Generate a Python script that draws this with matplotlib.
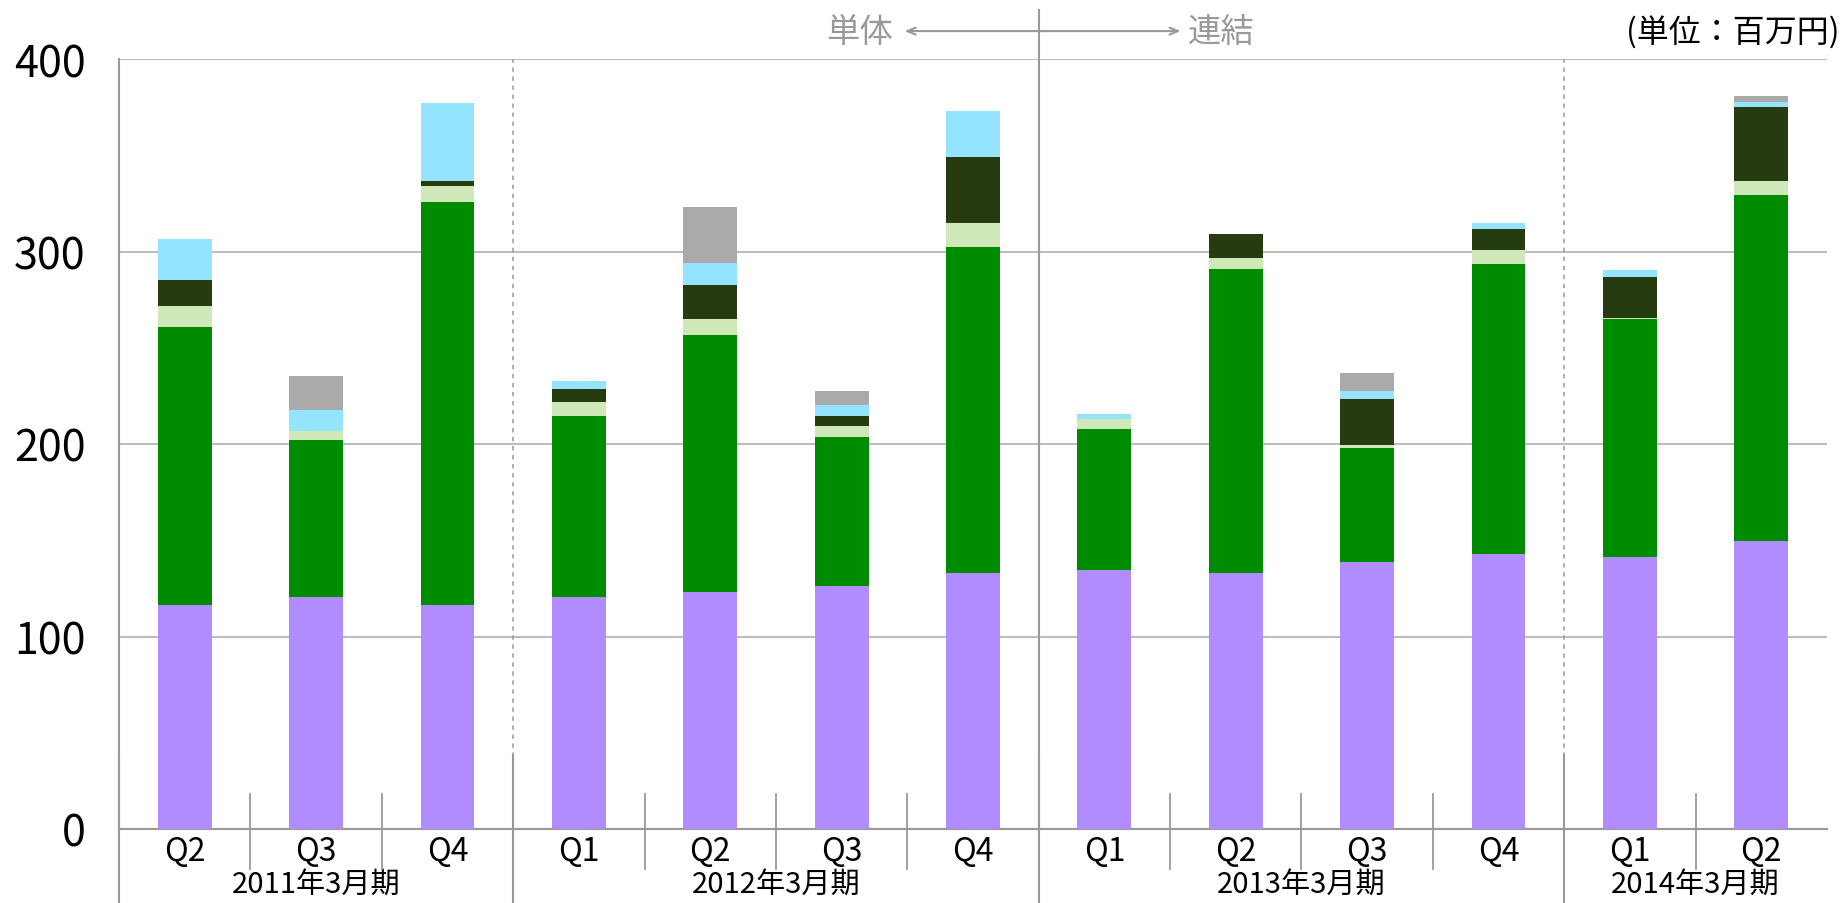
import matplotlib
matplotlib.use("Agg")
import matplotlib.pyplot as plt
import numpy as np

plt.rcParams["font.family"] = ["Noto Sans CJK JP", "DejaVu Sans"]

# quarter labels and fiscal-year groups
quarters = ["Q2", "Q3", "Q4", "Q1", "Q2", "Q3", "Q4", "Q1", "Q2", "Q3", "Q4", "Q1", "Q2"]
fiscal_years = ["2011年3月期", "2012年3月期", "2013年3月期", "2014年3月期"]
year_counts = [3, 4, 4, 2]

# stacked segments, bottom to top (百万円)
purple = [116.4, 120.5, 116.4, 120.5, 123.1, 126.2, 133.0, 134.5, 133.0, 138.7, 142.9, 141.3, 149.6]
green = [144.4, 81.4, 209.3, 93.9, 133.4, 77.3, 169.2, 73.1, 157.8, 59.1, 150.5, 123.4, 180.0]
light_green = [11.0, 4.7, 8.3, 7.3, 8.3, 5.7, 12.5, 5.6, 5.7, 1.5, 7.3, 1.0, 6.8]
dark_green = [13.5, 0.0, 2.6, 6.7, 17.7, 5.2, 34.3, 0.0, 12.5, 23.9, 10.9, 20.8, 38.9]
light_blue = [21.3, 10.9, 40.4, 4.2, 11.4, 5.7, 23.9, 2.6, 0.0, 4.2, 3.1, 4.1, 2.6]
gray = [0.0, 17.7, 0.0, 0.0, 29.1, 7.3, 0.0, 0.0, 0.0, 9.3, 0.0, 0.0, 3.1]

series = [purple, green, light_green, dark_green, light_blue, gray]
colors = ["#B18CFE", "#008C00", "#CFE8B7", "#263C10", "#94E3FF", "#AAAAAA"]

LINE = "#999999"

fig = plt.figure(figsize=(18.43, 9.04), dpi=100)
ax = fig.add_axes([119 / 1843, 1 - 830 / 904, (1827 - 119) / 1843, 770 / 904])

x = np.arange(len(quarters))
bottom = np.zeros(len(quarters))
for vals, col in zip(series, colors):
    ax.bar(x, vals, width=0.41, bottom=bottom, color=col, linewidth=0, zorder=3)
    bottom += np.array(vals)

ax.set_xlim(-0.5, len(quarters) - 0.5)
ax.set_ylim(0, 400)
ax.set_yticks([0, 100, 200, 300, 400])
ax.tick_params(axis="y", length=0, pad=24, labelsize=31)
ax.set_xticks([])
ax.yaxis.grid(True, color="#BDBDBD", linewidth=1.5, zorder=0)

for s in ["top", "right"]:
    ax.spines[s].set_visible(False)
for s in ["left", "bottom"]:
    ax.spines[s].set_color(LINE)
    ax.spines[s].set_linewidth(1.5)

# quarter labels and short dividers inside a year
for i, q in enumerate(quarters):
    ax.text(i, -11.5, q, ha="center", va="center", fontsize=23, clip_on=False)

bounds = np.concatenate([[0], np.cumsum(year_counts)]) - 0.5
for b0, b1, name in zip(bounds[:-1], bounds[1:], fiscal_years):
    ax.text((b0 + b1) / 2, -28.5, name, ha="center", va="center", fontsize=21, clip_on=False)
    for k in np.arange(b0 + 1, b1):
        ax.plot([k, k], [18, -20.8], color=LINE, lw=1.3, clip_on=False, zorder=4)

# fiscal-year dividers
for b in bounds[:-1]:
    ax.plot([b, b], [38.4, -38.6], color=LINE, lw=1.5, clip_on=False, zorder=4)
for b in [bounds[1], bounds[3]]:
    ax.plot([b, b], [0, 400], color=LINE, lw=1.1, ls=(0, (2.9, 3.0)), zorder=4)

# 単体 / 連結 boundary
mid = bounds[2]
ax.plot([mid, mid], [425.5, 0], color=LINE, lw=1.5, clip_on=False, zorder=4)
ax.annotate("", xy=(5.48, 414.5), xytext=(7.58, 414.5), annotation_clip=False,
            arrowprops=dict(arrowstyle="<->,head_length=0.6,head_width=0.25",
                            color=LINE, lw=1.5, shrinkA=0, shrinkB=0))
ax.text(5.14, 414.5, "単体", ha="center", va="center", fontsize=24, color=LINE, clip_on=False)
ax.text(7.89, 414.5, "連結", ha="center", va="center", fontsize=24, color=LINE, clip_on=False)

fig.text(1840 / 1843, 1 - 33 / 904, "(単位：百万円)", ha="right", va="center", fontsize=23)

fig.savefig("out.png", dpi=100)
